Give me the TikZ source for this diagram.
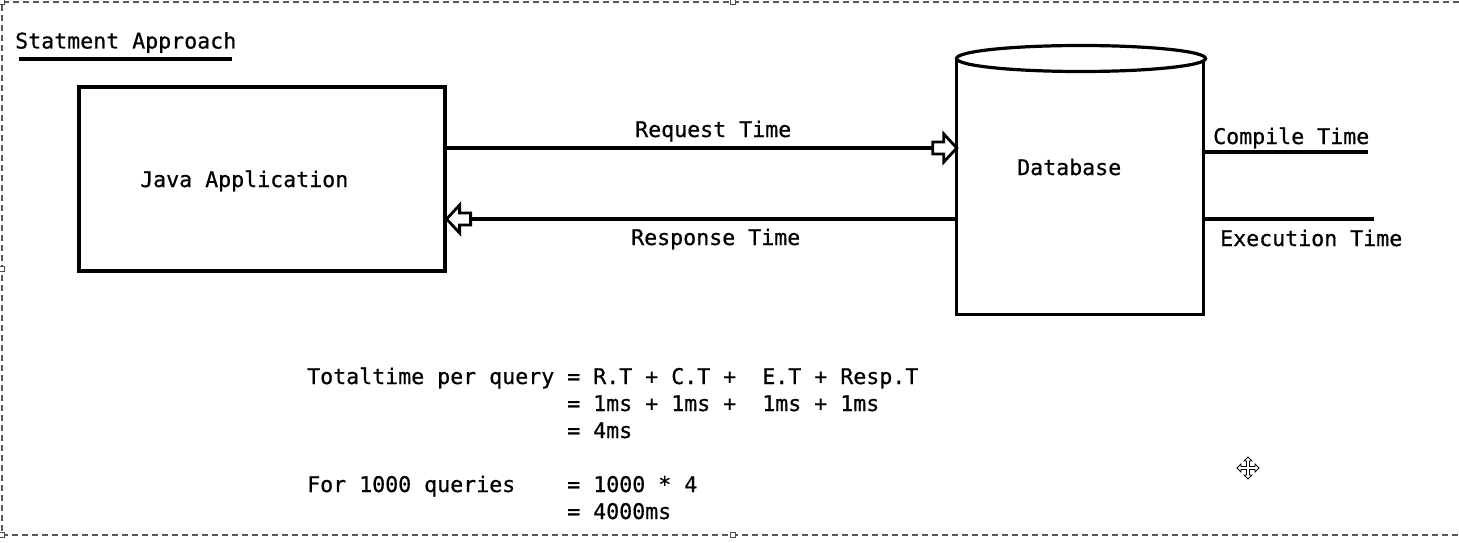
\documentclass[tikz,border=0pt]{standalone}
\usepackage{fontspec}
\newfontfamily\codefont[FakeBold=0.6]{DejaVu Sans Mono}
\begin{document}
\begin{tikzpicture}[x=1pt,y=-1pt,
  txt/.style={anchor=base west,inner sep=0pt,font=\codefont\fontsize{21.6}{26}\selectfont},
  thick line/.style={line width=3.2pt,line cap=butt},
  frame line/.style={draw=black!65,line width=1.1pt,dash pattern=on 6pt off 4pt},
  handle/.style={draw=black!70,line width=1pt,fill=white,minimum size=5pt,inner sep=0pt},
  hollowhead/.pic={\draw[line width=2.8pt,fill=white,line join=miter]
     (0,0) -- (-13,-14) -- (-13,-6) -- (-24,-6) -- (-24,6) -- (-13,6) -- (-13,14) -- cycle;},
  moveicon/.pic={\draw[line width=0.9pt,fill=white,line join=miter]
     (0,-11) -- (4,-7) -- (1.5,-7) -- (1.5,-1.5) -- (7,-1.5) -- (7,-4) -- (11,0) -- (7,4) -- (7,1.5)
     -- (1.5,1.5) -- (1.5,7) -- (4,7) -- (0,11) -- (-4,7) -- (-1.5,7) -- (-1.5,1.5) -- (-7,1.5)
     -- (-7,4) -- (-11,0) -- (-7,-4) -- (-7,-1.5) -- (-1.5,-1.5) -- (-1.5,-7) -- (-4,-7) -- cycle;}
]
\useasboundingbox (0,0) rectangle (1459,543);
\fill[white] (0,0) rectangle (1459,543);

% selection frame
\coordinate (ftl) at (2,2);
\coordinate (ftr) at (1459,2);
\coordinate (fbl) at (2,535);
\coordinate (fbr) at (1459,535);
\draw[frame line] (ftr) -- (ftl) -- (fbl) -- (fbr);
\node[handle] (h1) at (2,2) {};
\node[handle] (h2) at (733,2) {};
\node[handle] (h3) at (2,269) {};
\node[handle] (h4) at (2,535) {};
\node[handle] (h5) at (733,535) {};

% title
\node[txt] (title) at (15,48.5) {Statment Approach};
\coordinate (ul1) at (19,59);
\coordinate (ul2) at (232,59);
\draw[line width=3.2pt] (ul1) -- (ul2);

% Java application box
\node[draw,thick line,minimum width=366pt,minimum height=184pt,inner sep=0pt] (java) at (262,179) {};
\node[txt] (javalbl) at (140,187) {Java Application};

% database cylinder
\node[minimum width=246pt,minimum height=256pt,inner sep=0pt] (db) at (1080,186) {};
\draw[thick line] (db.north west) -- (db.south west) -- (db.south east) -- (db.north east);
\draw[thick line,fill=white] (1081,58.5) ellipse [x radius=124.5, y radius=13];
\node[txt] (dblbl) at (1017,175) {Database};

% request arrow
\coordinate (rqs) at (java.east |- 0,148);
\coordinate (rqe) at (db.west |- 0,148);
\draw[thick line] (rqs) -- ([xshift=-23pt]rqe);
\pic at (rqe) {hollowhead};
\node[txt] (rqlbl) at (635,137) {Request Time};

% response arrow
\coordinate (rss) at (db.west |- 0,219);
\coordinate (rse) at (java.east |- 0,219);
\draw[thick line] (rss) -- ([xshift=23pt]rse);
\pic[rotate=180] at (rse) {hollowhead};
\node[txt] (rslbl) at (631,245) {Response Time};

% compile / execution lines
\coordinate (cts) at (db.east |- 0,152);
\coordinate (cte) at (1368,152);
\draw[thick line] (cts) -- (cte);
\node[txt] (ctlbl) at (1213,144) {Compile Time};
\coordinate (ets) at (db.east |- 0,219);
\coordinate (ete) at (1374,219);
\draw[thick line] (ets) -- (ete);
\node[txt] (etlbl) at (1220,246) {Execution Time};

% calculations
\node[txt] (l1) at (307,384) {Totaltime per query = R.T + C.T +~~E.T + Resp.T};
\node[txt] (l2) at (567,411) {= 1ms + 1ms +~~1ms + 1ms};
\node[txt] (l3) at (567,438) {= 4ms};
\node[txt] (l4) at (307,492) {For 1000 queries~~~~= 1000 * 4};
\node[txt] (l5) at (567,519) {= 4000ms};

% move cursor
\pic at (1248,468) {moveicon};
\end{tikzpicture}
\end{document}
